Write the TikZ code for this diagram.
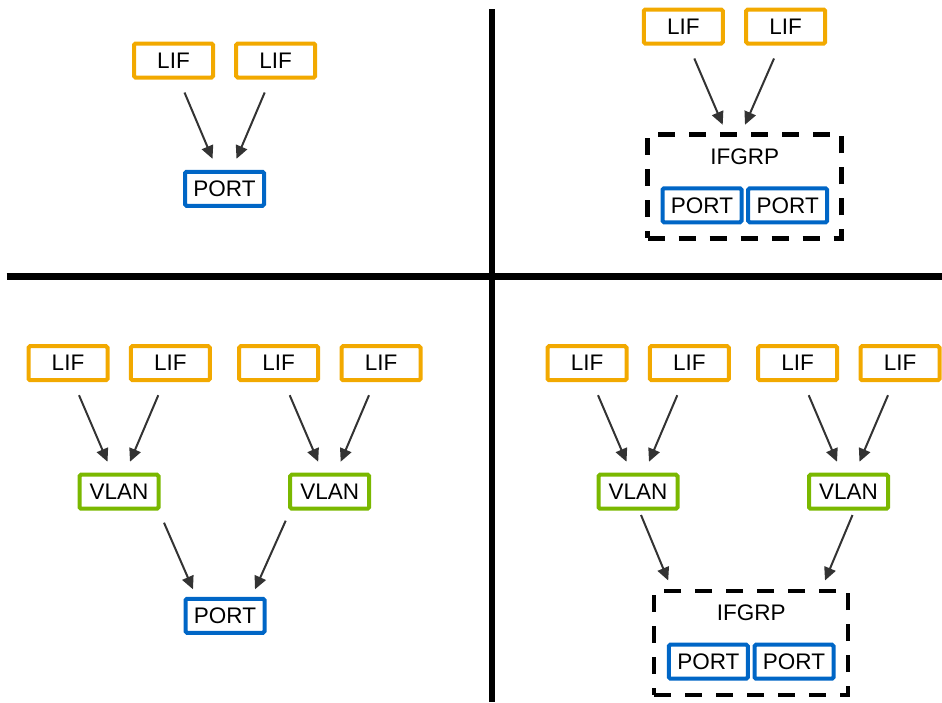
\documentclass[tikz,border=0pt]{standalone}
\usepackage{fontspec}
\setmainfont{Liberation Sans}
\usetikzlibrary{arrows.meta}
\definecolor{lifgelb}{HTML}{F2A900}
\definecolor{vlangruen}{HTML}{7AB800}
\definecolor{portblau}{HTML}{0066C6}
\definecolor{pfeilgrau}{HTML}{333333}
\begin{document}
\begin{tikzpicture}[x=1pt,y=-1pt]
				% Einstellungen für die Kästchen
				\tikzset{box/.style={
						draw, % Umrandung
						line width=4pt, % Dicke Linie
						fill=white, % Weiße Füllung
						minimum width=79pt, % Breite der Kästchen
						minimum height=34pt, % Höhe der Kästchen
						inner sep=0pt,
						rounded corners=1.5pt,
						text=black, % Textfarbe
						align=center, % Text zentrieren
						font=\fontsize{22.5}{27}\selectfont
					},
					lif/.style={box, draw=lifgelb}, % Gelbe Kästchen
					vlan/.style={box, draw=vlangruen}, % Grüne Kästchen
					port/.style={box, draw=portblau}, % Blaue Kästchen
					gruppe/.style={
						draw=black, % Schwarze Linie
						line width=4.5pt,
						dash pattern=on 17pt off 14pt, % Gestrichelt
						minimum width=194pt,
						minimum height=104pt
					},
					titel/.style={font=\fontsize{22.5}{27}\selectfont, inner sep=0pt},
					pfeil/.style={draw=pfeilgrau, line width=2pt, -{Triangle[length=13pt,width=12pt]}}
				}
				
				% Bildgröße festlegen
				\useasboundingbox (0,0) rectangle (942,702);
				
				% Trennlinien zwischen den vier Fällen
				\draw[line width=6.5pt] (492,9.3) -- (492,702);
				\draw[line width=6.5pt] (6.7,276.3) -- (942,276.3);
				
				% LIF-Kästchen platzieren
				\foreach \name/\x/\y in {a1/173.5/60.5, a2/275.7/60.5, b1/683.3/26.5, b2/785.7/26.5,
					c1/68/363.2, c2/170.3/363.2, c3/278.7/363.2, c4/381/363.2,
					d1/587/363.2, d2/689.3/363.2, d3/797.7/363.2, d4/900/363.2} {
					\node[lif] (lif\name) at (\x,\y) {LIF};
				}
				
				% VLAN-Kästchen
				\node[vlan] (vlanc1) at (119,491.7) {VLAN};
				\node[vlan] (vlanc2) at (329.7,491.7) {VLAN};
				\node[vlan] (vland1) at (638,491.7) {VLAN};
				\node[vlan] (vland2) at (848.5,491.7) {VLAN};
				
				% Einzelne Ports
				\node[port] (porta) at (224.5,188.8) {PORT};
				\node[port] (portc) at (225,615.8) {PORT};
				
				% Interface-Gruppe oben rechts
				\node[gruppe] (grpb) at (744.7,186.3) {};
				\node[titel] (grpbtitel) at (744.7,157) {IFGRP};
				\node[port] (portb1) at (702,205.3) {PORT};
				\node[port] (portb2) at (787.7,205.3) {PORT};
				
				% Interface-Gruppe unten rechts
				\node[gruppe] (grpd) at (751.2,643) {};
				\node[titel] (grpdtitel) at (751.2,612.7) {IFGRP};
				\node[port] (portd1) at (708.3,661.7) {PORT};
				\node[port] (portd2) at (794,661.7) {PORT};
				
				% Pfeile von LIF nach unten
				\foreach \von/\nach/\dx/\ex in {a1/porta/11/-12, a2/porta/-11/12,
					c1/vlanc1/11/-11.5, c2/vlanc1/-12/11, c3/vlanc2/11/-11.5, c4/vlanc2/-12/11,
					d1/vland1/11/-11.5, d2/vland1/-12/11, d3/vland2/11/-11.5, d4/vland2/-12/11} {
					\draw[pfeil] ([shift={(\dx,32)}]lif\von.center) -- ([shift={(\ex,-30)}]\nach.center);
				}
				\draw[pfeil] ([shift={(11,32)}]lifb1.center) -- ([shift={(-22,-7.3)}]grpb.north);
				\draw[pfeil] ([shift={(-11.7,32)}]lifb2.center) -- ([shift={(0.3,-7.3)}]grpb.north);
				
				% Pfeile von VLAN nach unten
				\draw[pfeil] ([shift={(45,31)}]vlanc1.center) -- ([shift={(-32,-26.5)}]portc.center);
				\draw[pfeil] ([shift={(-44,29)}]vlanc2.center) -- ([shift={(30,-26.5)}]portc.center);
				\draw[pfeil] ([shift={(3,23.3)}]vland1.center) -- ([shift={(-83,-8.3)}]grpd.north);
				\draw[pfeil] ([shift={(4,23.3)}]vland2.center) -- ([shift={(73.8,-8.3)}]grpd.north);
			\end{tikzpicture}
\end{document}
